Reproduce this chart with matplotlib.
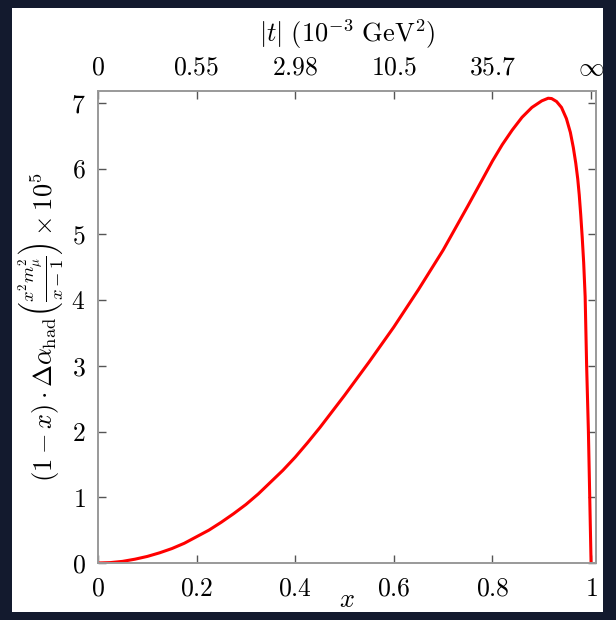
import numpy as np
import matplotlib.pyplot as plt
from matplotlib.patches import Rectangle

plt.rcParams['mathtext.fontset'] = 'cm'
plt.rcParams['font.family'] = 'serif'
plt.rcParams['font.serif'] = ['cmr10', 'DejaVu Serif']
plt.rcParams['axes.formatter.use_mathtext'] = True

# curve
x_vals = [0.0, 0.025, 0.05, 0.075, 0.10, 0.125, 0.15, 0.175, 0.20, 0.225,
          0.25, 0.275, 0.30, 0.325, 0.35, 0.375, 0.40, 0.425, 0.45, 0.50,
          0.55, 0.60, 0.65, 0.70, 0.75, 0.78, 0.80, 0.82, 0.84, 0.86,
          0.88, 0.90, 0.913, 0.92, 0.93, 0.94, 0.95, 0.958, 0.964, 0.969,
          0.973, 0.976, 0.979, 0.982, 0.985, 0.988, 0.991, 0.9946,
          0.9973, 1.0]
y_vals = [0.0, 0.006, 0.025, 0.058, 0.10, 0.155, 0.22, 0.30, 0.40, 0.50,
          0.62, 0.75, 0.89, 1.05, 1.23, 1.41, 1.61, 1.83, 2.06, 2.55,
          3.06, 3.59, 4.16, 4.76, 5.43, 5.84, 6.115, 6.365, 6.585, 6.78,
          6.93, 7.03, 7.07, 7.065, 7.02, 6.93, 6.76, 6.55, 6.32, 6.08,
          5.84, 5.60, 5.30, 4.96, 4.57, 4.05, 3.00, 2.00,
          1.00, 0.0]

x_ticks = [0, 0.2, 0.4, 0.6, 0.8, 1]
x_ticklabels = ['$0$', '$0.2$', '$0.4$', '$0.6$', '$0.8$', '$1$']
t_ticklabels = ['$0$', '$0.55$', '$2.98$', '$10.5$', '$35.7$', r'$\infty$']
y_ticks = [0, 1, 2, 3, 4, 5, 6, 7]

fig = plt.figure(figsize=(6.16, 6.2), dpi=100)
fig.patch.set_facecolor('#131a2e')
# white panel behind the plot
fig.patches.append(Rectangle((12 / 616, 1 - 612 / 620), 591 / 616, 604 / 620,
                             transform=fig.transFigure, facecolor='white',
                             edgecolor='none', zorder=-5))

ax = fig.add_axes([98 / 616, 1 - 563 / 620, 498 / 616, 472 / 620])
ax.set_facecolor('white')
ax.plot(x_vals, y_vals, color='red', lw=2.2, solid_joinstyle='round')

ax.set_xlim(0, 1.01)
ax.set_ylim(0, 7.18)
ax.set_xticks(x_ticks)
ax.set_xticklabels(x_ticklabels)
ax.set_yticks(y_ticks)
ax.set_yticklabels(['$%d$' % v for v in y_ticks])
ax.tick_params(direction='in', length=6, width=1, color='#555555',
               labelsize=18.5, right=True)
ax.tick_params(axis='x', pad=10)
ax.tick_params(axis='y', pad=9)
for s in ax.spines.values():
    s.set_color('#999999')
    s.set_linewidth(1.2)

ax.set_xlabel('$x$', fontsize=19, labelpad=-9)
ax.set_ylabel(r'$(1-x)\cdot\Delta\alpha_{\mathrm{had}}\left(\frac{x^2m_\mu^2}{x-1}\right)\times10^5$',
              fontsize=19, labelpad=4)

top = ax.twiny()
top.set_xlim(ax.get_xlim())
top.set_xticks(x_ticks)
top.set_xticklabels(t_ticklabels)
top.tick_params(direction='in', length=6, width=1, color='#555555',
                labelsize=18.5, pad=8)
top.set_xlabel(r'$|t|\ (10^{-3}\ \mathrm{GeV}^2)$', fontsize=19, labelpad=10)
for s in top.spines.values():
    s.set_color('#999999')
    s.set_linewidth(1.2)

fig.savefig('out.png', dpi=100, facecolor=fig.get_facecolor())
